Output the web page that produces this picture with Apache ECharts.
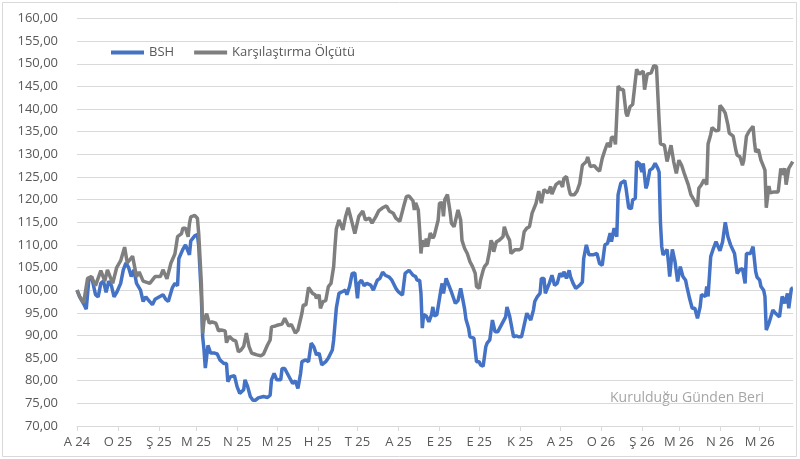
<!DOCTYPE html>
<html>
<head>
<meta charset="utf-8">
<script src="https://cdn.jsdelivr.net/npm/echarts@6/dist/echarts.min.js"></script>
<style>
  html, body { margin: 0; padding: 0; background: #fff; }
  #chart { width: 800px; height: 459px; }
</style>
</head>
<body>
<div id="chart"></div>
<script>
// kuruluş tarihi, günler bu tarihten itibaren sayılıyor
const startDate = new Date(2024, 11, 1).getTime()
const DAY = 24 * 3600 * 1000
const endDay = 541.2

const monthInitials = ['O', 'Ş', 'M', 'N', 'M', 'H', 'T', 'A', 'E', 'E', 'K', 'A']

const bshDays = [0, 2, 5, 7, 9, 11, 14, 16, 18, 20, 22, 24, 26, 28, 30, 33, 35, 37, 39, 41, 43, 45, 48, 50, 52, 54, 57, 59, 62, 65, 67, 69, 72, 74, 76, 77, 80, 82, 85, 86, 89, 91, 92, 94, 95, 96, 97, 99, 101, 104, 106, 108, 111, 113, 114, 116, 119, 121, 123, 126, 127, 129, 131, 133, 135, 137, 141, 144, 146, 147, 149, 151, 154, 155, 157, 159, 161, 163, 165, 167, 169, 170, 173, 175, 177, 179, 181, 183, 185, 188, 190, 193, 194, 196, 198, 200, 203, 204, 206, 208, 210, 212, 213, 215, 217, 219, 222, 224, 227, 229, 231, 233, 236, 238, 241, 243, 244, 246, 248, 251, 252, 254, 256, 257, 259, 260, 261, 262, 264, 266, 268, 269, 270, 272, 273, 275, 276, 277, 279, 281, 283, 286, 288, 290, 291, 293, 294, 296, 297, 300, 301, 302, 304, 305, 307, 309, 310, 312, 314, 316, 318, 320, 322, 324, 325, 327, 329, 330, 332, 334, 336, 338, 340, 341, 343, 345, 346, 348, 350, 351, 353, 354, 356, 357, 359, 361, 363, 365, 367, 368, 370, 372, 373, 375, 377, 378, 380, 382, 383, 385, 387, 390, 393, 395, 397, 399, 401, 403, 404, 406, 408, 409, 411, 414, 415, 417, 419, 420, 422, 423, 425, 427, 428, 430, 431, 433, 435, 437, 439, 440, 441, 442, 443, 446, 447, 448, 450, 452, 454, 456, 458, 460, 461, 463, 465, 467, 469, 471, 472, 475, 476, 477, 479, 481, 483, 486, 488, 490, 492, 494, 497, 499, 501, 503, 505, 506, 509, 511, 513, 514, 516, 517, 519, 520, 521, 523, 526, 528, 531, 533, 535, 537, 538, 540, 541]
const bshValues = [100, 98.5, 97, 95.8, 102.5, 103, 99, 98.5, 101.5, 102, 99.5, 102, 101, 98.5, 99.5, 101.5, 104.5, 106, 105, 103, 104.5, 101.5, 100, 97.5, 98.5, 97.8, 96.8, 98, 98.5, 99, 98, 97.5, 100.5, 101.5, 101, 107, 109, 110, 107.8, 110.9, 112, 112.3, 109.8, 98.6, 89.7, 86.8, 82.8, 87.8, 86.1, 86.1, 85.9, 84.6, 83.8, 83.8, 79.8, 80.9, 81.1, 78.7, 77.2, 78, 80.2, 78.7, 76.5, 75.7, 75.7, 76.2, 76.5, 76.3, 76.8, 80.2, 81.6, 80.2, 80.2, 82.7, 82.7, 81.6, 80.5, 79.4, 80, 78.3, 81.6, 84.2, 84.6, 84.2, 88.3, 87.5, 85.7, 86.1, 83.5, 84.2, 85, 86.8, 89, 96, 99.3, 99.6, 100, 99, 100.8, 103.7, 103.8, 98.2, 101.5, 102.2, 101, 101.5, 101.1, 100, 102.2, 102.6, 104, 103.3, 102.9, 102.2, 100.4, 99.6, 99.6, 98.9, 103.7, 104.4, 104.5, 103.3, 103, 102.2, 102.2, 99.3, 91.6, 94.6, 94.3, 93, 94.6, 96.3, 94.3, 94.6, 95, 100, 101.5, 99.3, 102.6, 101.1, 99.6, 97.1, 97.7, 100.4, 98.9, 95.8, 93.6, 91.6, 89.7, 89.4, 86.8, 84.2, 84.2, 83.5, 83.2, 87.5, 88.3, 89, 93.4, 90.8, 90.8, 91.9, 93, 94.1, 96.3, 94.3, 91.2, 89.7, 89.9, 89.7, 89.7, 92.3, 94.9, 94.6, 93.4, 95.6, 97.5, 98.6, 99.3, 102.6, 102.6, 99.3, 100.8, 101.5, 103.3, 101.1, 101.5, 103.7, 103, 104.1, 102.6, 104.4, 103, 101.5, 100.4, 100, 101.1, 101.8, 107, 110, 107.8, 107.8, 108.1, 105.9, 105.5, 110, 110.3, 112.6, 110.7, 113.7, 111.8, 121.1, 123.6, 124.2, 122.5, 118.2, 118, 119.9, 120.3, 128.4, 128, 126.1, 128, 122.5, 123.3, 126.5, 126.9, 128, 126.9, 126.1, 115, 109.6, 107.8, 109, 106.3, 103, 109, 106.3, 101.9, 105.2, 103, 102.2, 100.8, 98.2, 96, 96, 93.8, 96.3, 99, 98.6, 100.8, 98.6, 107.4, 109.2, 110.7, 108.7, 110.7, 115, 111.8, 110, 108.1, 103.7, 104.5, 104.8, 101.5, 108.1, 108.1, 109.6, 104.1, 102.9, 102.2, 100.8, 100, 98.6, 91.2, 92.7, 95.6, 94.9, 94.1, 98.6, 97.1, 99.3, 96, 100.4, 100.4]

const benchDays = [0, 2, 5, 8, 11, 14, 18, 21, 23, 27, 30, 33, 36, 38, 42, 45, 47, 50, 55, 59, 63, 65, 68, 71, 74, 76, 79, 80, 82, 84, 85, 86, 89, 91, 92, 94, 95, 96, 98, 100, 102, 105, 107, 109, 112, 113, 115, 118, 120, 122, 124, 126, 128, 130, 132, 134, 136, 139, 141, 144, 146, 147, 150, 152, 155, 157, 160, 162, 164, 165, 167, 170, 171, 173, 175, 178, 180, 181, 183, 184, 186, 188, 190, 192, 194, 195, 196, 198, 201, 203, 205, 208, 210, 213, 216, 218, 221, 223, 226, 228, 231, 234, 236, 239, 241, 244, 245, 247, 249, 251, 254, 255, 256, 258, 259, 260, 261, 263, 264, 265, 267, 269, 270, 273, 274, 276, 277, 278, 280, 281, 282, 283, 285, 286, 288, 290, 291, 293, 295, 297, 299, 301, 302, 304, 305, 307, 308, 310, 312, 313, 314, 315, 317, 319, 322, 323, 325, 327, 328, 331, 334, 336, 338, 340, 342, 344, 347, 349, 351, 353, 356, 358, 359, 362, 365, 367, 368, 370, 372, 373, 376, 378, 380, 382, 385, 386, 388, 391, 393, 395, 397, 399, 401, 403, 404, 406, 407, 409, 411, 413, 415, 416, 418, 420, 423, 425, 428, 429, 431, 434, 436, 438, 440, 441, 444, 446, 449, 451, 453, 455, 457, 459, 460, 462, 464, 467, 469, 470, 472, 474, 476, 477, 479, 480, 483, 485, 486, 488, 490, 492, 493, 496, 498, 499, 501, 503, 504, 506, 508, 511, 512, 513, 515, 517, 518, 520, 521, 523, 524, 527, 530, 532, 533, 535, 536, 538, 539, 541]
const benchValues = [100, 98.6, 97.2, 102.6, 103, 101, 104.3, 102, 104.5, 101.5, 105, 106.5, 109.5, 106, 107.5, 103, 104, 102, 101.5, 103, 103, 104.5, 102.5, 106, 108, 111.8, 112.5, 113.7, 113.7, 111.8, 114.7, 116.2, 116.5, 115.9, 112.5, 101.5, 90.4, 93.3, 94.8, 92.7, 93, 92.7, 91, 91.2, 91, 88.4, 89.8, 89, 88.8, 86.4, 86.8, 87.6, 90.5, 87.6, 86.1, 85.9, 85.7, 85.5, 85.9, 87.9, 89, 91.9, 92.1, 92.3, 92.5, 93.8, 92.1, 92.4, 91.2, 90.5, 91.2, 94.9, 96.7, 96.7, 100.6, 99.3, 99, 98.2, 99, 96, 97.5, 97.7, 100.8, 101.5, 105.2, 109.6, 113.5, 115.5, 113.3, 116.2, 118.2, 114.8, 112.5, 116.3, 117.5, 115.5, 115.9, 114.8, 116.3, 117.5, 118.2, 118.6, 117.5, 117, 115.9, 115.2, 115.2, 118.6, 120.7, 120.8, 119.7, 117.7, 119.3, 117.7, 113.3, 108.1, 111, 109.6, 111.4, 109.6, 112.6, 111.5, 112, 115.5, 119.2, 119.3, 116.3, 120, 121.1, 119.2, 117.3, 114.8, 114, 113.7, 117.7, 115.5, 111, 109.2, 108.1, 106.3, 105.2, 103.7, 100.8, 100.4, 102.2, 104.4, 105.2, 105.9, 108.9, 111, 110.3, 108.5, 110.7, 111, 111.8, 114, 112.2, 111, 108.1, 108.9, 108.9, 109.2, 112.9, 113.7, 114, 117, 119.2, 121.9, 119.2, 122.2, 121.5, 122.9, 121.2, 123.3, 124, 122.8, 124.7, 125.1, 122.2, 121.1, 121.1, 121.9, 123.6, 127.6, 128.4, 129.4, 127.3, 127.5, 126.8, 126.3, 129.1, 130.9, 132.5, 131.6, 133.8, 133.7, 132.2, 145.1, 144.3, 144.3, 139.1, 138.4, 140.5, 141, 148.8, 147.7, 148.4, 144.3, 147.7, 148, 149.6, 149.4, 137.4, 132.3, 132, 128.4, 132, 128.4, 125.8, 128.7, 127.6, 125.8, 125.4, 123.3, 121.1, 119.6, 118.5, 122.5, 123.3, 124.4, 123.3, 132.3, 134.4, 135.9, 135.2, 135.3, 140.8, 140.1, 139.1, 136.5, 134.7, 134, 130.9, 129.8, 129.5, 127.6, 128.7, 134, 135.1, 136.2, 132.9, 130.5, 131.1, 128.7, 128, 126.5, 118.2, 123, 121.5, 121.7, 121.7, 126.9, 125.5, 126.9, 123.3, 126.9, 127, 128.4]

const toPoints = (days, values) => days.map((d, i) => [startDate + d * DAY, values[i]])

const chart = echarts.init(document.getElementById('chart'))
const font = 'Open Sans'
const option = {
  animation: false,
  textStyle: { fontFamily: font },
  grid: { left: 77, right: 7, top: 18.5, bottom: 33, containLabel: false },
  legend: {
    left: 106,
    top: 41,
    icon: 'rect',
    itemWidth: 33,
    itemHeight: 4,
    itemGap: 20,
    textStyle: { color: '#595959', fontSize: 13, fontFamily: font },
    data: ['BSH', 'Karşılaştırma Ölçütü']
  },
  xAxis: {
    type: 'time',
    min: startDate,
    max: startDate + endDay * DAY,
    splitNumber: 17,
    minInterval: 28 * DAY,
    maxInterval: 31 * DAY,
    axisLine: { lineStyle: { color: '#d9d9d9', width: 1 } },
    axisTick: { show: true, length: 5, lineStyle: { color: '#d9d9d9' } },
    splitLine: { show: false },
    axisLabel: {
      color: '#595959',
      fontSize: 13,
      fontFamily: font,
      margin: 10,
      hideOverlap: false,
      formatter: function (v) {
        const d = new Date(v)
        return monthInitials[d.getMonth()] + ' ' + String(d.getFullYear()).slice(2)
      }
    }
  },
  yAxis: {
    type: 'value',
    min: 70,
    max: 160,
    interval: 5,
    axisLine: { show: false },
    axisTick: { show: false },
    splitLine: { lineStyle: { color: '#d9d9d9', width: 1 } },
    axisLabel: {
      color: '#595959',
      fontSize: 13,
      fontFamily: font,
      margin: 19,
      formatter: v => v.toFixed(2).replace('.', ',')
    }
  },
  graphic: [
    {
      type: 'rect',
      shape: { x: 2.5, y: 2.5, width: 794, height: 454 },
      style: { fill: 'none', stroke: '#d9d9d9', lineWidth: 1 },
      silent: true
    },
    {
      type: 'text',
      left: 610,
      top: 391,
      style: { text: 'Kurulduğu Günden Beri', fill: '#a6a6a6', font: '14px "Open Sans"' },
      silent: true
    }
  ],
  series: [
    {
      name: 'BSH',
      type: 'line',
      data: toPoints(bshDays, bshValues),
      symbol: 'none',
      color: '#4472C4',
      lineStyle: { width: 3.5, color: '#4472C4' }
    },
    {
      name: 'Karşılaştırma Ölçütü',
      type: 'line',
      data: toPoints(benchDays, benchValues),
      symbol: 'none',
      color: '#7F7F7F',
      lineStyle: { width: 3.5, color: '#7F7F7F' }
    }
  ]
}
chart.setOption(option)
</script>
</body>
</html>
